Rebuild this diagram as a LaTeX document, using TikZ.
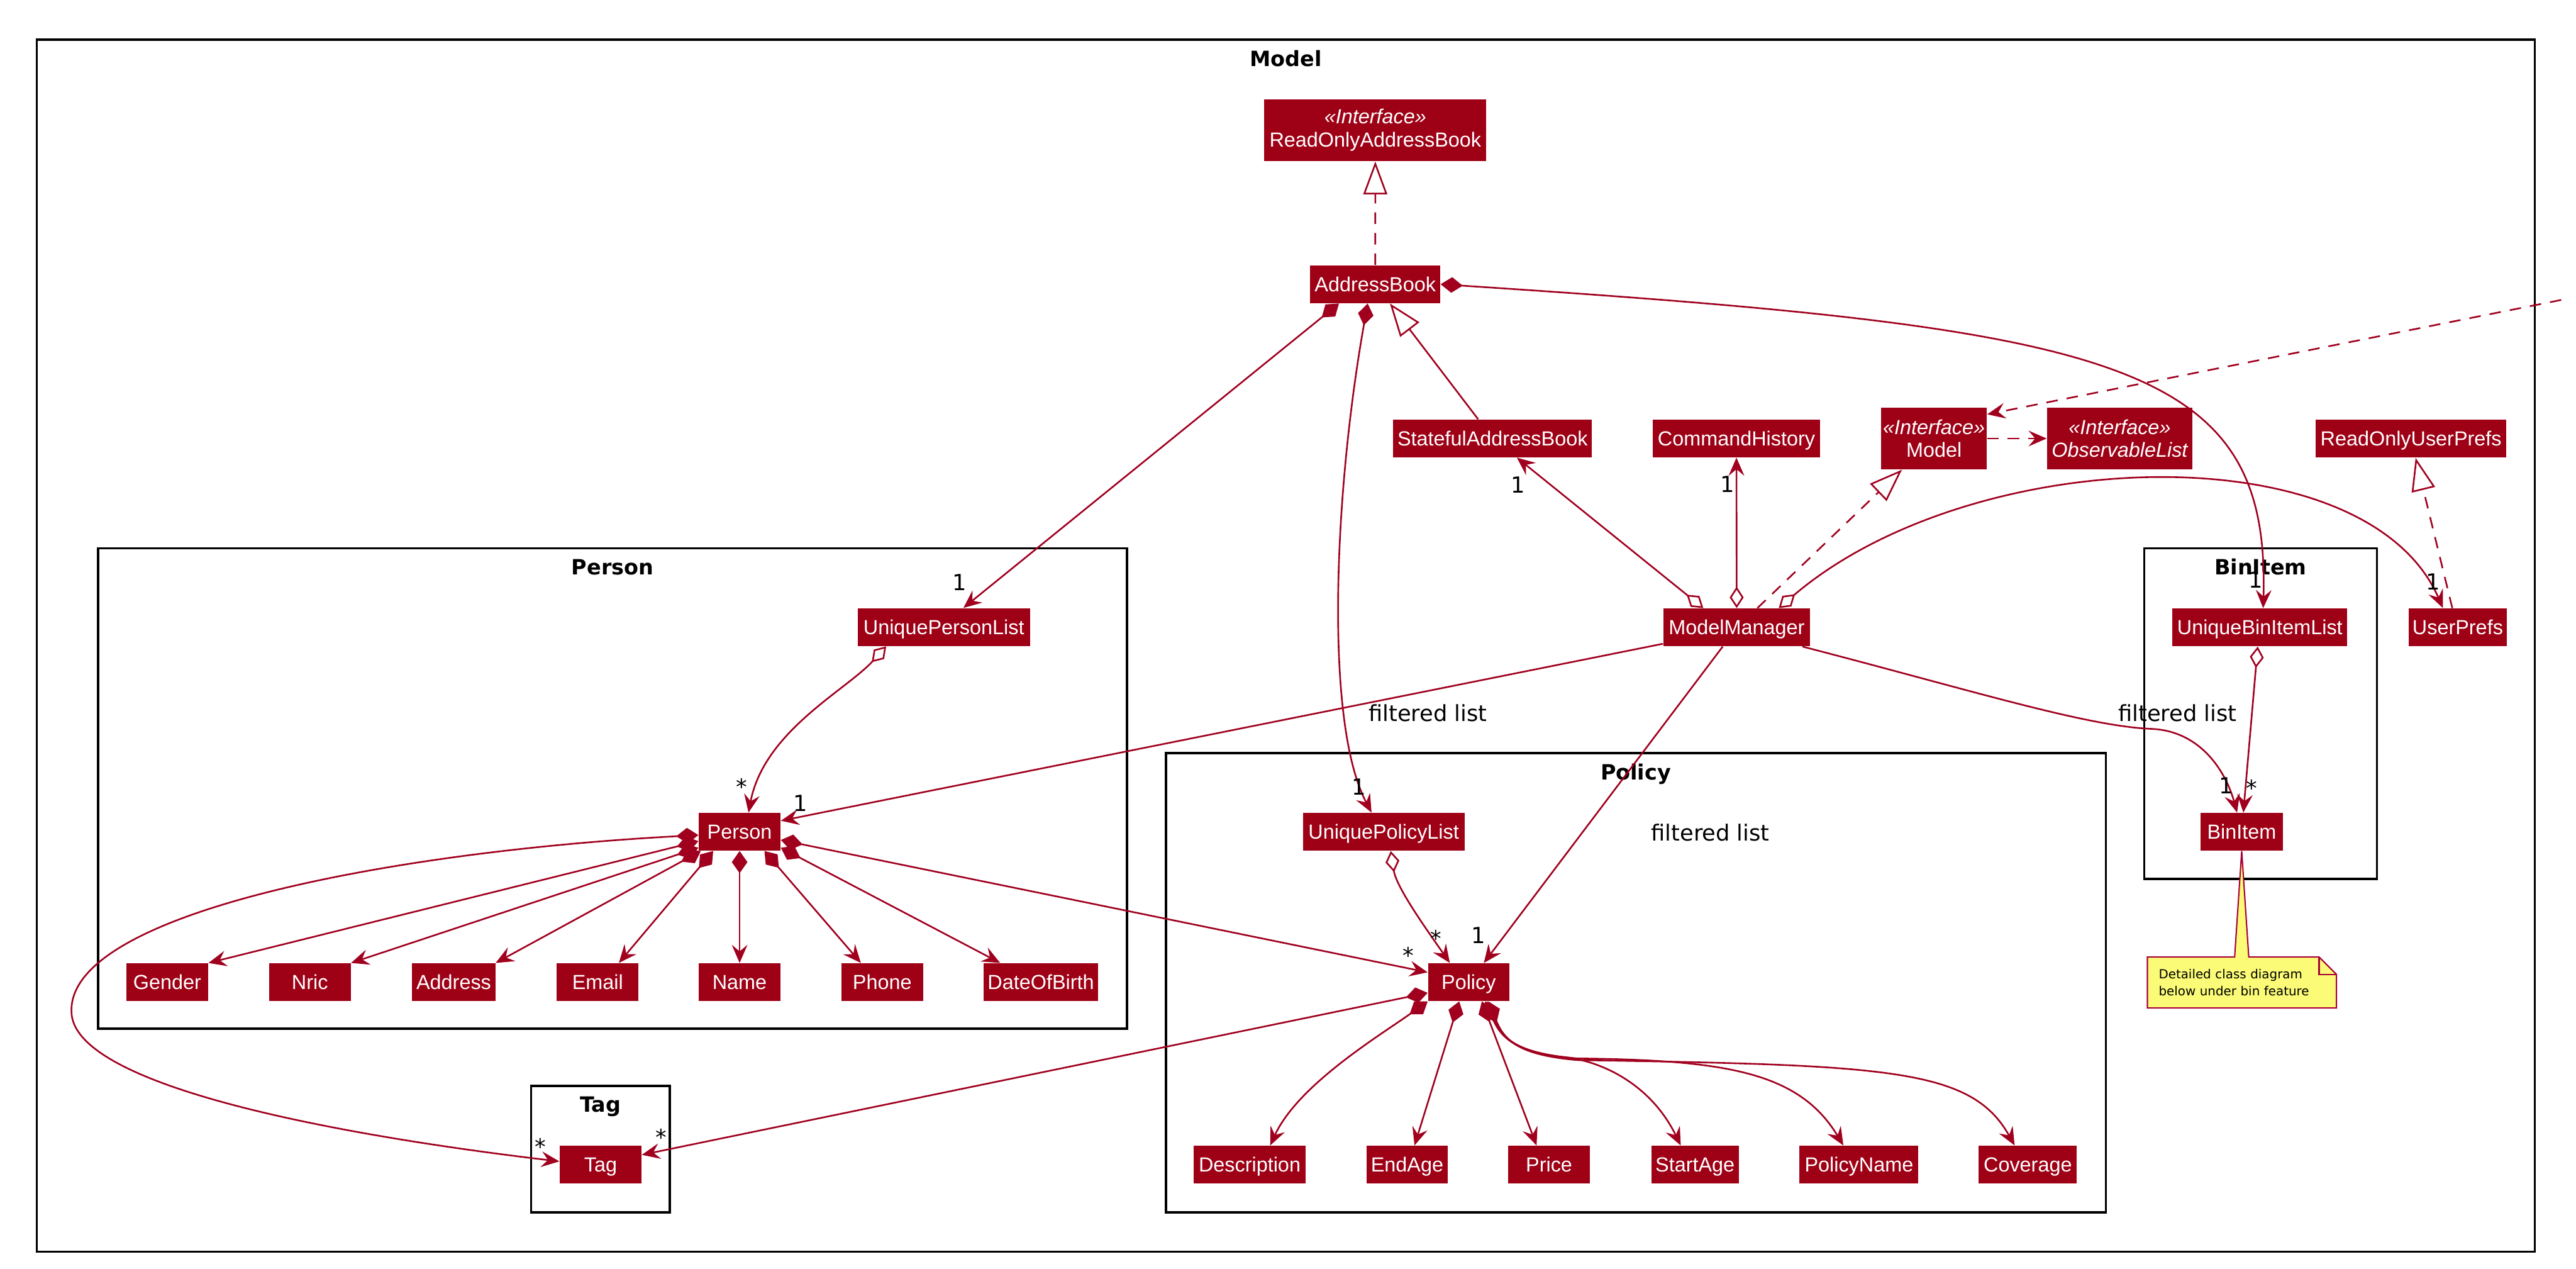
\documentclass[tikz,border=0pt]{standalone}
\usepackage{fontspec}
\usetikzlibrary{arrows.meta,calc,backgrounds}
\newfontfamily\boxfont{Liberation Sans}
\newfontfamily\lblfont{DejaVu Sans}
\definecolor{boxred}{RGB}{158,0,22}
\definecolor{linered}{RGB}{160,0,30}
\definecolor{notefill}{RGB}{251,251,119}
\definecolor{noteline}{RGB}{168,0,54}
\tikzset{
  cls/.style={fill=boxred, text=white, font=\boxfont\fontsize{12.4}{14.1}\selectfont,
    inner xsep=1pt, inner ysep=0pt, minimum height=23pt, text height=8.9pt, text depth=0pt},
  ifc/.style={fill=boxred, text=white, font=\boxfont\fontsize{12.4}{14.1}\selectfont,
    inner xsep=1pt, inner ysep=0pt, minimum height=37.6pt, align=center},
  pkgframe/.style={draw=black, line width=1.4pt},
  ftitle/.style={font=\lblfont\bfseries\fontsize{12.8}{14}\selectfont, anchor=base, inner sep=0pt},
  lbl/.style={font=\lblfont\fontsize{13.5}{15}\selectfont, inner sep=0pt, text=black},
  conn/.style={draw=linered, line width=1pt},
  headtip/.tip={Stealth[length=11pt,width=9.5pt,inset=4pt]},
  assoc/.style={conn, -headtip},
  comp/.style={conn, {Diamond[length=13.5pt,width=9.5pt]}-headtip},
  aggr/.style={conn, {Diamond[open,length=13pt,width=8.5pt]}-headtip},
  inh/.style={conn, -{Triangle[open,length=20pt,width=14.5pt]}},
  real/.style={inh, dash pattern=on 7pt off 5.5pt},
  dep/.style={assoc, dash pattern=on 7pt off 5.5pt},
  notetxt/.style={font=\lblfont\fontsize{7.6}{10.2}\selectfont, align=left, inner xsep=6.7pt,
    inner ysep=0pt, minimum width=114.7pt, minimum height=30.6pt, text width=101.3pt},
}
\begin{document}
\begin{tikzpicture}[x=1pt, y=-1pt]
\useasboundingbox (0,0) rectangle (1568,771.75);

% ---------- class nodes ----------
\node[ifc, minimum width=135.1pt] (ROAB) at (837.15,79.25) {{\itshape «Interface»}\\ReadOnlyAddressBook};
\node[cls, minimum width=79.2pt] (AB) at (837.1,172.95) {AddressBook};
\node[cls, minimum width=121pt] (SAB) at (908.5,266.75) {StatefulAddressBook};
\node[cls, minimum width=101.9pt] (CH) at (1056.95,266.75) {CommandHistory};
\node[ifc, minimum width=64.4pt] (ModelI) at (1177.2,266.8) {{\itshape «Interface»}\\Model};
\node[ifc, minimum width=88.5pt] (ObsL) at (1290.25,266.8) {{\itshape «Interface»}\\{\itshape ObservableList}};
\node[cls, minimum width=115.9pt] (ROUP) at (1467.55,266.9) {ReadOnlyUserPrefs};
\node[cls, minimum width=89.4pt] (MM) at (1057.1,381.7) {ModelManager};
\node[cls, minimum width=60pt] (UP) at (1496,381.7) {UserPrefs};
\node[cls, minimum width=106.5pt] (UBIL) at (1375.55,381.7) {UniqueBinItemList};
\node[cls, minimum width=49.8pt] (BinItem) at (1364.5,506.1) {BinItem};
\node[cls, minimum width=105pt] (UPL) at (574.5,381.6) {UniquePersonList};
\node[cls, minimum width=49.8pt] (Person) at (450.2,506.1) {Person};
\node[cls, minimum width=49.8pt] (Gender) at (101.8,597.6) {Gender};
\node[cls, minimum width=49.8pt] (Nric) at (188.6,597.6) {Nric};
\node[cls, minimum width=50.6pt] (Address) at (276.2,597.6) {Address};
\node[cls, minimum width=49.8pt] (Email) at (363.8,597.6) {Email};
\node[cls, minimum width=49.8pt] (Name) at (450.2,597.6) {Name};
\node[cls, minimum width=49.8pt] (Phone) at (537,597.6) {Phone};
\node[cls, minimum width=69.3pt] (DOB) at (633.55,597.6) {DateOfBirth};
\node[cls, minimum width=98.5pt] (UPolL) at (842.25,506.1) {UniquePolicyList};
\node[cls, minimum width=49.6pt] (Policy) at (894,597.6) {Policy};
\node[cls, minimum width=67.9pt] (Desc) at (760.65,708.65) {Description};
\node[cls, minimum width=49.6pt] (EndAge) at (856.5,708.65) {EndAge};
\node[cls, minimum width=49.6pt] (Price) at (942.9,708.65) {Price};
\node[cls, minimum width=53.1pt] (StartAge) at (1031.75,708.65) {StartAge};
\node[cls, minimum width=72.3pt] (PolName) at (1131.55,708.65) {PolicyName};
\node[cls, minimum width=59.8pt] (Coverage) at (1234.3,708.65) {Coverage};
\node[cls, minimum width=49.8pt] (Tag) at (365.6,708.65) {Tag};

\node[notetxt] (note) at (1364.65,597.8) {Detailed class diagram\\below under bin feature};

% ---------- frames and note outline (background) ----------
\begin{scope}[on background layer]
  \draw[pkgframe] (22.4,24.2) rectangle (1542.9,761.6);
  \draw[pkgframe] (59.8,333.6) rectangle (686,625.9);
  \draw[pkgframe] (709.6,458.2) rectangle (1281.8,737.6);
  \draw[pkgframe] (1305.2,333.6) rectangle (1446.8,534.8);
  \draw[pkgframe] (323.3,660.6) rectangle (407.8,737.6);
  \draw[draw=noteline, fill=notefill, line width=0.8pt, line join=miter]
    (note.north west) -- ($(note.north -| BinItem.south)+(-4.3,0)$) -- (BinItem.south)
    -- ($(note.north -| BinItem.south)+(4.3,0)$) -- ($(note.north east)+(-10.6,0)$)
    -- ($(note.north east)+(0,10.6)$) -- (note.south east) -- (note.south west) -- cycle;
  \draw[draw=noteline, line width=0.8pt]
    ($(note.north east)+(-10.6,0)$) -- ($(note.north east)+(-10.6,10.6)$) -- ($(note.north east)+(0,10.6)$);
\end{scope}

% ---------- frame titles ----------
\node[ftitle] (tModel) at (782.7,40.2) {Model};
\node[ftitle] (tPerson) at (372.9,349.8) {Person};
\node[ftitle] (tPolicy) at (995.7,474.4) {Policy};
\node[ftitle] (tBin) at (1376,349.8) {BinItem};
\node[ftitle] (tTag) at (365.5,676.8) {Tag};

% ---------- connectors ----------
\draw[real] (AB) -- (ROAB);
\draw[inh] ([xshift=-8.8pt]SAB.north) -- ([xshift=8.9pt]AB.south);
\draw[comp] ([xshift=-22.1pt]AB.south) -- ([xshift=11.9pt]UPL.north);
\draw[comp] ([xshift=-4.6pt]AB.south) .. controls (812,300) and (806,440) .. ([xshift=-7.4pt]UPolL.north);
\draw[comp] (AB.east) .. controls (1290,200) and (1382,220) .. ([xshift=2pt]UBIL.north);

\draw[aggr] ([xshift=-20.3pt]MM.north) -- ([xshift=14.8pt]SAB.south);
\draw[aggr] (MM.north) -- (CH.south);
\draw[real] ([xshift=12.6pt]MM.north) -- ([xshift=-19.5pt]ModelI.south);
\draw[aggr] ([xshift=25.6pt]MM.north) .. controls (1200,270) and (1440,262) .. ([xshift=-9pt]UP.north);
\draw[real] ([xshift=-3.3pt]UP.north) -- ([xshift=2.8pt]ROUP.south);
\draw[dep] (ModelI.east) -- (ObsL.west);
\coordinate (ext) at (1559,182.5);
\draw[dep] (ext) -- ([yshift=-4.3pt]ModelI.north east);

\draw[assoc] ([yshift=1.7pt]MM.south west) -- ([yshift=-5pt]Person.north east);
\draw[assoc] ([xshift=-8.5pt]MM.south) -- ([xshift=9.2pt]Policy.north);
\draw[assoc] ([xshift=-4.9pt]MM.south east) .. controls (1200,420) and (1270,442) .. (1310,443.5)
  .. controls (1340,445) and (1355,470) .. ([xshift=-2.8pt]BinItem.north);
\draw[aggr] ([xshift=-1.3pt]UBIL.south) -- ([xshift=1pt]BinItem.north);

\draw[aggr] ([xshift=-35.1pt]UPL.south) .. controls (515,420) and (465,445) .. ([xshift=5.4pt]Person.north);
\draw[aggr] ([xshift=4.3pt]UPolL.south) .. controls (850,540) and (868,565) .. ([xshift=-11.5pt]Policy.north);
\draw[comp] ([yshift=-5pt]Person.east) -- ([yshift=6pt]Policy.west);
\draw[comp] ([yshift=-2pt]Person.west) .. controls (240,518) and (42,555) .. (43.5,615.3)
  .. controls (43.5,660) and (200,690) .. ([yshift=2pt]Tag.west);
\draw[comp] ([yshift=-6.5pt]Policy.west) -- ([yshift=6pt]Tag.east);

\draw[comp] ([yshift=6pt]Person.south west) -- (Gender.north east);
\draw[comp] ([yshift=2pt]Person.south west) -- (Nric.north east);
\draw[comp] ([xshift=1.5pt]Person.south west) -- (Address.north east);
\draw[comp] ([xshift=9pt]Person.south west) -- ([xshift=12.9pt]Email.north);
\draw[comp] (Person.south) -- (Name.north);
\draw[comp] ([xshift=-10pt]Person.south east) -- ([xshift=-13pt]Phone.north);
\draw[comp] ([yshift=2pt]Person.south east) -- ([xshift=10.1pt]DOB.north west);

\draw[comp] (Policy.south west) .. controls (840,630) and (790,660) .. ([xshift=12.5pt]Desc.north);
\draw[comp] ([xshift=-5.8pt]Policy.south) -- ([xshift=4.5pt]EndAge.north);
\draw[comp] ([xshift=8pt]Policy.south) -- ([xshift=-7.6pt]Price.north);
\draw[comp] ([xshift=10pt]Policy.south) .. controls (914,632) and (924,640) .. (950,643)
  .. controls (975,645) and (1005,660) .. ([xshift=-8.7pt]StartAge.north);
\draw[comp] ([xshift=11pt]Policy.south) .. controls (915,633) and (925,641) .. (960,644)
  .. controls (1050,645) and (1095,652) .. ([xshift=-9.5pt]PolName.north);
\draw[comp] ([xshift=12pt]Policy.south) .. controls (916,634) and (926,642) .. (960,645)
  .. controls (1150,648) and (1200,650) .. ([xshift=-8pt]Coverage.north);

% ---------- labels ----------
\node[lbl] (l1) at (584.2,354.3) {1};
\node[lbl] (l2) at (827,478.6) {1};
\node[lbl] (l3) at (1373.2,352.8) {1};
\node[lbl] (l4) at (923.8,294.9) {1};
\node[lbl] (l5) at (1051.5,294.8) {1};
\node[lbl] (l6) at (1481,354) {1};
\node[lbl] (l7) at (451.4,478.5) {*};
\node[lbl] (l8) at (487.1,488.8) {1};
\node[lbl] (f1) at (869.2,433.9) {filtered list};
\node[lbl] (f2) at (1041.1,506.7) {filtered list};
\node[lbl] (f3) at (1325.5,433.8) {filtered list};
\node[lbl] (l9) at (873.9,570.9) {*};
\node[lbl] (l10) at (900,569.2) {1};
\node[lbl] (l11) at (857.1,581.2) {*};
\node[lbl] (l12) at (1355,477.8) {1};
\node[lbl] (l13) at (1370.6,479.4) {*};
\node[lbl] (l14) at (328.9,697.6) {*};
\node[lbl] (l15) at (402.4,691.8) {*};
\end{tikzpicture}
\end{document}
